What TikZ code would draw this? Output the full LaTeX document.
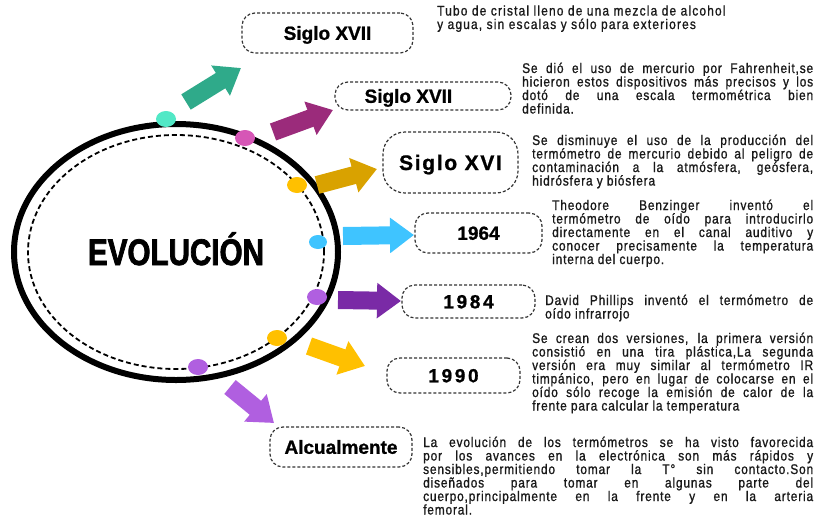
\documentclass[tikz,border=0pt]{standalone}
\usepackage{fontspec}
\setmainfont{Liberation Sans}
\newfontfamily\bodyfont[FakeStretch=0.85,LetterSpace=6,FakeBold=1]{Liberation Sans}
\newfontfamily\headfont[FakeBold=1]{Liberation Sans}
\newfontfamily\evofont[FakeStretch=0.8,FakeBold=2]{Liberation Sans}
\usepackage{xcolor}
\usepackage{tikz}
\usetikzlibrary{arrows.meta}
\usetikzlibrary{positioning}
\usetikzlibrary{shapes.geometric}

\definecolor{tealdot}{HTML}{52E8C6}
\definecolor{tealarr}{HTML}{2FAA8A}
\definecolor{pinkdot}{HTML}{D656B6}
\definecolor{pinkarr}{HTML}{9B2B7B}
\definecolor{golddot}{HTML}{FFC000}
\definecolor{goldarr}{HTML}{D9A200}
\definecolor{bluedot}{HTML}{3FC4FF}
\definecolor{purpdot}{HTML}{B05FE0}
\definecolor{purparr}{HTML}{7A2AA6}

\tikzset{
  yearbox/.style={draw=black!80, line width=1.2pt, dash pattern=on 3pt off 2pt,
    rounded corners=13pt, inner sep=0pt, text height=13.6pt, text depth=0pt,
    font=\headfont\bfseries\fontsize{19}{22}\selectfont},
  desc/.style={inner sep=0pt, anchor=base west, text=black!90,
    font=\bodyfont\fontsize{14}{13.5}\selectfont},
  bigarrow/.style={line width=18pt, -{Triangle[length=24pt,width=34pt]}},
  dot/.style={ellipse, minimum width=20pt, minimum height=16pt, inner sep=0pt}
}

\begin{document}
\begin{tikzpicture}[x=1pt, y=-1pt]
\useasboundingbox (0,0) rectangle (819,520);

% centre
\node [ellipse, draw, line width=6pt, minimum width=324pt, minimum height=256pt] (evo) at (176,252) {};
\node [ellipse, draw, line width=1.8pt, dash pattern=on 5pt off 3pt, minimum width=296pt, minimum height=234pt] (evoin) at (176,252) {};
\node [anchor=base, inner sep=0pt, font=\evofont\bfseries\fontsize{37}{40}\selectfont] (evotxt) at (176,265) {EVOLUCIÓN};

% arrows
\coordinate (t1) at (186,102); \coordinate (h1) at (241,68);
\coordinate (t2) at (273,132); \coordinate (h2) at (333,110);
\coordinate (t3) at (317,185); \coordinate (h3) at (377,169);
\coordinate (t4) at (343,236); \coordinate (h4) at (414,235);
\coordinate (t5) at (338,300); \coordinate (h5) at (401,301);
\coordinate (t6) at (309,346); \coordinate (h6) at (365,366);
\coordinate (t7) at (230,387); \coordinate (h7) at (274,423);
\draw [bigarrow, draw=tealarr] (t1) -- (h1);
\draw [bigarrow, draw=pinkarr] (t2) -- (h2);
\draw [bigarrow, draw=goldarr] (t3) -- (h3);
\draw [bigarrow, draw=bluedot] (t4) -- (h4);
\draw [bigarrow, draw=purparr] (t5) -- (h5);
\draw [bigarrow, draw=golddot] (t6) -- (h6);
\draw [bigarrow, draw=purpdot] (t7) -- (h7);

% dots
\node [dot, fill=tealdot] (dot1) at (166,119) {};
\node [dot, fill=pinkdot] (dot2) at (245,138) {};
\node [dot, fill=golddot] (dot3) at (297,185) {};
\node [dot, fill=bluedot, minimum width=18pt, minimum height=14pt] (dot4) at (318,242) {};
\node [dot, fill=purpdot] (dot5) at (317,297) {};
\node [dot, fill=golddot] (dot6) at (277,338) {};
\node [dot, fill=purpdot] (dot7) at (198,367) {};

% boxes
\node [yearbox, minimum width=171pt, minimum height=40pt] (b1) at (327.5,33) {Siglo XVII};
\node [yearbox, minimum width=176pt, minimum height=28pt] (b2) at (423,96) {};
\node [inner sep=0pt, font=\headfont\bfseries\fontsize{19}{22}\selectfont, text height=13.6pt, text depth=0pt, right=30pt of b2.west] (b2txt) {Siglo XVII};
\node [yearbox, rounded corners=22pt, minimum width=135pt, minimum height=61pt, text height=15pt,
  font=\headfont\bfseries\fontsize{21}{24}\selectfont\addfontfeature{LetterSpace=8}] (b3) at (450.5,162.5) {Siglo XVI};
\node [yearbox, minimum width=127pt, minimum height=40pt] (b4) at (478.5,233) {1964};
\node [yearbox, minimum width=133pt, minimum height=33pt,
  font=\headfont\bfseries\fontsize{19}{22}\selectfont\addfontfeature{LetterSpace=14}] (b5) at (468.5,301.5) {1984};
\node [yearbox, minimum width=133pt, minimum height=35pt,
  font=\headfont\bfseries\fontsize{19}{22}\selectfont\addfontfeature{LetterSpace=14}] (b6) at (453.5,375.5) {1990};
\node [yearbox, minimum width=142pt, minimum height=40pt] (b7) at (341,447) {Alcualmente};

% texts
\node [desc, align=left, font=\bodyfont\fontsize{14}{13.5}\selectfont\addfontfeature{LetterSpace=8.5}] (d1) at (437,29) {Tubo de cristal lleno de una mezcla de alcohol\\y agua, sin escalas y sólo para exteriores};
\node [desc, text width=291pt, align=justify] (d2) at (522,73) {Se dió el uso de mercurio por Fahrenheit,se\linebreak
  hicieron estos dispositivos más precisos y los\linebreak
  dotó de una escala termométrica bien\linebreak
  definida.};
\node [desc, text width=281pt, align=justify] (d3) at (532,145) {Se disminuye el uso de la producción del\linebreak
  termómetro de mercurio debido al peligro de\linebreak
  contaminación a la atmósfera, geósfera,\linebreak
  hidrósfera y biósfera};
\node [desc, text width=261pt, align=justify] (d4) at (552,210) {Theodore Benzinger inventó el\linebreak
  termómetro de oído para introducirlo\linebreak
  directamente en el canal auditivo y\linebreak
  conocer precisamente la temperatura\linebreak
  interna del cuerpo.};
\node [desc, text width=268pt, align=justify] (d5) at (545,305) {David Phillips inventó el termómetro de\linebreak
  oído infrarrojo};
\node [desc, text width=281pt, align=justify] (d6) at (532,343) {Se crean dos versiones, la primera versión\linebreak
  consistió en una tira plástica,La segunda\linebreak
  versión era muy similar al termómetro IR\linebreak
  timpánico, pero en lugar de colocarse en el\linebreak
  oído sólo recoge la emisión de calor de la\linebreak
  frente para calcular la temperatura};
\node [desc, text width=390pt, align=justify] (d7) at (423,447) {La evolución de los termómetros se ha visto favorecida\linebreak
  por los avances en la electrónica son más rápidos y\linebreak
  sensibles,permitiendo tomar la T° sin contacto.Son\linebreak
  diseñados para tomar en algunas parte del\linebreak
  cuerpo,principalmente en la frente y en la arteria\linebreak
  femoral.};
\end{tikzpicture}
\end{document}
